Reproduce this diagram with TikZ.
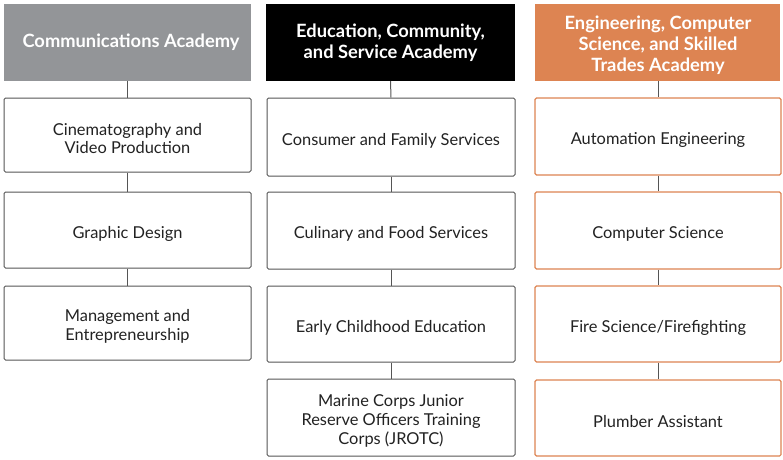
\documentclass[tikz,border=0pt]{standalone}
\usepackage{fontspec}
\setmainfont{Lato}
\definecolor{hgray}{HTML}{939598}
\definecolor{horange}{HTML}{DD8452}
\definecolor{lgray}{HTML}{555555}
\definecolor{tgray}{HTML}{222222}
\tikzset{
  hdr/.style={draw=none, text=white, font=\fontsize{18.3}{21}\selectfont\bfseries, align=center, inner sep=0pt},
  itembox/.style={draw=lgray, line width=1pt, rounded corners=1.5pt, fill=white, inner sep=0pt},
  obox/.style={itembox, draw=horange, line width=1.1pt},
  itemtext/.style={text=tgray, font=\fontsize{16.4}{18.8}\selectfont, align=center, inner sep=0pt},
  conn/.style={draw=lgray, line width=1pt}
}
\newcommand{\itm}[6]{% style, name, x, y, w/h, text
  \node[#1, #5] (#2) at (#3,#4) {};
  \node[itemtext] (#2t) at ([yshift=-3.5pt]#2.center) {#6};}
\begin{document}
\begin{tikzpicture}[x=1pt,y=-1pt]
\useasboundingbox (0,0) rectangle (783,459);
% column 1
\fill[hgray] (4,4) rectangle (251,81);
\node[hdr] (h1) at (131,42.5) {Communications Academy};
\coordinate (h1b) at (127.5,81);
\itm{itembox}{a1}{127.5}{135}{minimum width=247pt, minimum height=74pt}{Cinematography and\\Video Production}
\itm{itembox}{a2}{127.5}{230}{minimum width=247pt, minimum height=76pt}{Graphic Design}
\itm{itembox}{a3}{127.5}{323}{minimum width=247pt, minimum height=74pt}{Management and\\Entrepreneurship}
% column 2
\fill[black] (266,4) rectangle (515,81);
\node[hdr] (h2) at (390.5,43) {Education, Community,\\and Service Academy};
\coordinate (h2b) at (390.5,81);
\itm{itembox}{b1}{391}{137}{minimum width=248pt, minimum height=78pt}{Consumer and Family Services}
\itm{itembox}{b2}{391}{230.5}{minimum width=248pt, minimum height=77pt}{Culinary and Food Services}
\itm{itembox}{b3}{391}{324}{minimum width=248pt, minimum height=76pt}{Early Childhood Education}
\itm{itembox}{b4}{391}{417.5}{minimum width=248pt, minimum height=77pt}{Marine Corps Junior\\Reserve Officers Training\\Corps (JROTC)}
% column 3
\fill[horange] (535,4) rectangle (780,81);
\node[hdr] (h3) at (658,45) {Engineering, Computer\\Science, and Skilled\\Trades Academy};
\coordinate (h3b) at (658,81);
\itm{obox}{c1}{658}{136.5}{minimum width=246pt, minimum height=77pt}{Automation Engineering}
\itm{obox}{c2}{658}{230.5}{minimum width=246pt, minimum height=77pt}{Computer Science}
\itm{obox}{c3}{658}{324}{minimum width=246pt, minimum height=76pt}{Fire Science/Firefighting}
\itm{obox}{c4}{658}{418}{minimum width=246pt, minimum height=76pt}{Plumber Assistant}
% connectors
\draw[conn] (h1b) -- (a1.north);
\draw[conn] (a1) -- (a2);
\draw[conn] (a2) -- (a3);
\draw[conn] (h2b) -- (b1.north);
\draw[conn] (b1) -- (b2);
\draw[conn] (b2) -- (b3);
\draw[conn] (b3) -- (b4);
\draw[conn] (h3b) -- (c1.north);
\draw[conn] (c1) -- (c2);
\draw[conn] (c2) -- (c3);
\draw[conn] (c3) -- (c4);
\end{tikzpicture}
\end{document}
